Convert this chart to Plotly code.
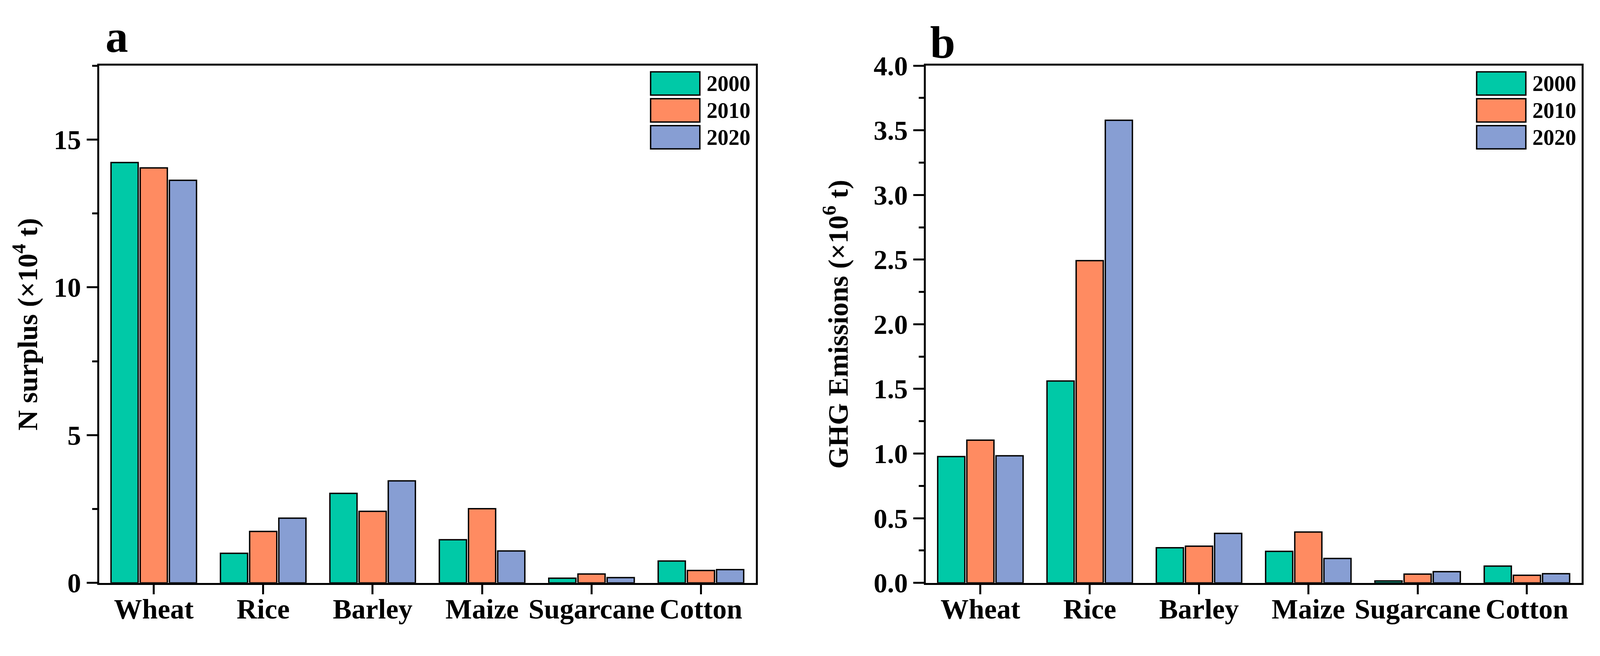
import plotly.graph_objects as go

crops = ["Wheat", "Rice", "Barley", "Maize", "Sugarcane", "Cotton"]
years = ["2000", "2010", "2020"]

# Panel a: N surplus (x10^4 t)
n_surplus_2000 = [14.22, 1.00, 3.03, 1.46, 0.16, 0.74]
n_surplus_2010 = [14.04, 1.74, 2.42, 2.51, 0.30, 0.42]
n_surplus_2020 = [13.62, 2.19, 3.45, 1.08, 0.18, 0.45]

# Panel b: GHG emissions (x10^6 t)
ghg_2000 = [0.977, 1.561, 0.272, 0.244, 0.015, 0.130]
ghg_2010 = [1.104, 2.492, 0.284, 0.393, 0.068, 0.059]
ghg_2020 = [0.983, 3.577, 0.383, 0.189, 0.087, 0.071]

colors = ["#00C9A7", "#FF8B61", "#879ED3"]

FONT = "Liberation Serif"
RW, RH = 4186, 1680      # reference picture size
H = RH - 16              # figure height (body margin 8px top/bottom)


def fx(px):
    return (px - 8) / (RW - 16)


def fy(py):
    return 1 - (py - 8) / H


fig = go.Figure()

series_a = [n_surplus_2000, n_surplus_2010, n_surplus_2020]
series_b = [ghg_2000, ghg_2010, ghg_2020]

for yr, vals, col in zip(years, series_a, colors):
    fig.add_trace(go.Bar(x=crops, y=vals, name=yr,
                         marker=dict(color=col, line=dict(color="black", width=3.5)),
                         xaxis="x", yaxis="y", showlegend=False))
for yr, vals, col in zip(years, series_b, colors):
    fig.add_trace(go.Bar(x=crops, y=vals, name=yr,
                         marker=dict(color=col, line=dict(color="black", width=3.5)),
                         xaxis="x2", yaxis="y2", showlegend=False))

xa = [fx(259), fx(1977)]
xb = [fx(2422), fx(4138)]
yd = [fy(1526), fy(137)]

tickfont = dict(family=FONT, size=70, color="black", weight="bold")
catfont = dict(family=FONT, size=72, color="black", weight="bold")
titlefont = dict(family=FONT, size=72, color="black", weight="bold")


def xaxis_cfg(domain, anchor):
    return dict(domain=domain, anchor=anchor, type="category", categoryorder="array", categoryarray=crops,
                range=[-0.5, 5.5], showline=True, linewidth=5, linecolor="black", mirror=True,
                ticks="outside", ticklen=24, tickwidth=4.5, tickcolor="black", tickfont=catfont,
                ticklabelstandoff=-24, showgrid=False, zeroline=False)


def boundary_axis(overlay, anchor, domain):
    return dict(overlaying=overlay, anchor=anchor, domain=domain, type="linear", range=[-0.5, 5.5],
                tick0=-0.5, dtick=1, ticks="outside", ticklen=11, tickwidth=4.5, tickcolor="black",
                showticklabels=False, showline=False, showgrid=False, zeroline=False, side="bottom",
                fixedrange=True)


def yaxis_cfg(domain, anchor, rng, dtick, minor_dtick, fmt, title, standoff):
    return dict(domain=domain, anchor=anchor, range=rng, dtick=dtick, tick0=0, tickformat=fmt,
                showline=True, linewidth=5, linecolor="black", mirror=True,
                ticks="outside", ticklen=27, tickwidth=4.5, tickcolor="black", tickfont=tickfont,
                minor=dict(dtick=minor_dtick, tick0=0, ticks="outside", ticklen=13, tickwidth=4.5,
                           tickcolor="black"),
                showgrid=False, zeroline=False,
                title=dict(text=title, font=titlefont, standoff=standoff))


fig.update_layout(
    height=H,
    autosize=True,
    margin=dict(l=0, r=0, t=0, b=0),
    paper_bgcolor="white", plot_bgcolor="white",
    bargap=0.2, bargroupgap=0.07, barmode="group",
    xaxis=xaxis_cfg(xa, "y"),
    xaxis2=xaxis_cfg(xb, "y2"),
    xaxis3=boundary_axis("x", "y", xa),
    xaxis4=boundary_axis("x2", "y2", xb),
    yaxis=yaxis_cfg(yd, "x", [0, 17.5], 5, 2.5, "d", "N surplus (×10<sup>4</sup> t)", 20),
    yaxis2=yaxis_cfg(yd, "x2", [0, 4.0], 0.5, 0.25, ".1f", "GHG Emissions (×10<sup>6</sup> t)", 44),
    showlegend=False,
)

# Panel letters
letter_font = dict(family=FONT, size=116, color="black", weight="bold")
fig.add_annotation(text="a", xref="paper", yref="paper", x=fx(274), y=fy(97), xanchor="left", yanchor="bottom",
                   showarrow=False, font=letter_font, yshift=-30)
fig.add_annotation(text="b", xref="paper", yref="paper", x=fx(2431), y=fy(113), xanchor="left", yanchor="bottom",
                   showarrow=False, font=letter_font, yshift=-30)

# Legends drawn inside each panel (top-right)
row_tops = [0.988, 0.936, 0.884]
row_h = 0.045
for xr, yr_ in (("x domain", "y domain"), ("x2 domain", "y2 domain")):
    for yr, col, top in zip(years, colors, row_tops):
        fig.add_shape(type="rect", xref=xr, yref=yr_, x0=0.840, x1=0.915, y0=top - row_h, y1=top,
                      fillcolor=col, line=dict(color="black", width=3.5))
        fig.add_annotation(text=yr, xref=xr, yref=yr_, x=0.924, y=top - row_h / 2, xanchor="left",
                           yanchor="middle", showarrow=False,
                           font=dict(family=FONT, size=56, color="black", weight="bold"))

fig.write_html("out.html", default_width="100%", default_height=f"{H}px")
